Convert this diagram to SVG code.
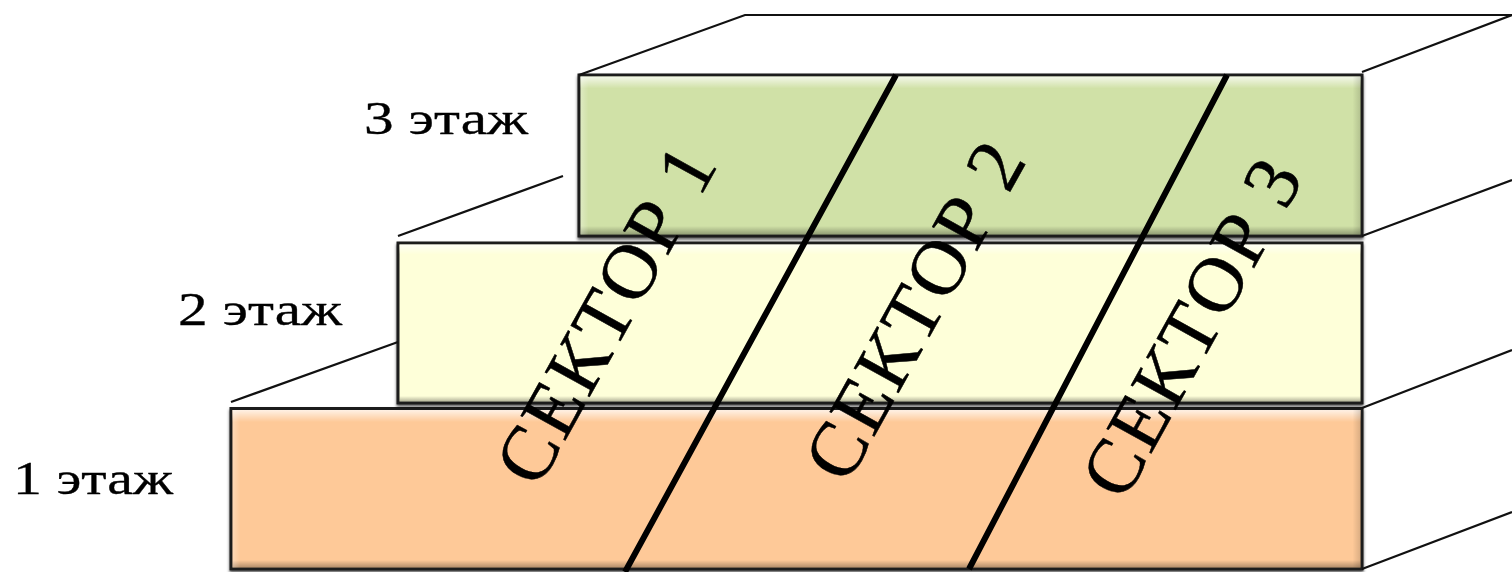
<svg xmlns="http://www.w3.org/2000/svg" width="1512" height="572" viewBox="0 0 1512 572">
<style>
.box{stroke:#1a1a1a;stroke-width:3}
.edge{stroke:#111;stroke-width:2.2;fill:none}
.div{stroke:#000;stroke-width:6;fill:none}
.floor{font-family:"Liberation Serif","DejaVu Serif",serif;font-size:46px;fill:#000;stroke:#000;stroke-width:.3}
.sector{font-family:"Liberation Serif","DejaVu Serif",serif;font-size:78px;fill:#000;stroke:#000;stroke-width:.5}
</style>
<defs>
<linearGradient id="t" x1="0" y1="0" x2="0" y2="1"><stop offset="0" stop-color="#fff" stop-opacity=".75"/><stop offset="1" stop-color="#fff" stop-opacity="0"/></linearGradient>
<linearGradient id="b" x1="0" y1="1" x2="0" y2="0"><stop offset="0" stop-color="#000" stop-opacity=".3"/><stop offset="1" stop-color="#000" stop-opacity="0"/></linearGradient>
<linearGradient id="l" x1="0" y1="0" x2="1" y2="0"><stop offset="0" stop-color="#fff" stop-opacity=".3"/><stop offset="1" stop-color="#fff" stop-opacity="0"/></linearGradient>
<linearGradient id="r" x1="1" y1="0" x2="0" y2="0"><stop offset="0" stop-color="#000" stop-opacity=".14"/><stop offset="1" stop-color="#000" stop-opacity="0"/></linearGradient>
<filter id="s" x="-2%" y="-5%" width="104%" height="110%"><feDropShadow dx="0" dy="2.500" stdDeviation="1.500" flood-color="#000" flood-opacity=".6"/></filter>
</defs>
<g id="floor-1">
<rect class="box" x="231" y="408.500" width="1131" height="160.500" fill="#fec998" filter="url(#s)"/>
<rect x="232.500" y="410" width="1128" height="12" fill="url(#t)"/><rect x="232.500" y="560" width="1128" height="7.500" fill="url(#b)"/>
<rect x="232.500" y="410" width="8" height="157.500" fill="url(#l)"/><rect x="1352.500" y="410" width="8" height="157.500" fill="url(#r)"/>
<text class="floor" x="13" y="494" textLength="160" lengthAdjust="spacingAndGlyphs">1 этаж</text>
</g>
<g id="floor-2">
<rect class="box" x="398" y="243" width="964" height="160" fill="#feffd9" filter="url(#s)"/>
<rect x="399.500" y="244.500" width="961" height="10" fill="url(#t)"/><rect x="399.500" y="396" width="961" height="5.500" fill="url(#b)"/>
<text class="floor" x="178" y="325" textLength="164" lengthAdjust="spacingAndGlyphs">2 этаж</text>
</g>
<g id="floor-3">
<rect class="box" x="579" y="75" width="783" height="161" fill="#d0e1a7" filter="url(#s)"/>
<rect x="580.500" y="76.500" width="780" height="12" fill="url(#t)"/><rect x="580.500" y="226" width="780" height="8.500" fill="url(#b)"/>
<rect x="580.500" y="76.500" width="8" height="158" fill="url(#l)"/><rect x="1352.500" y="76.500" width="8" height="158" fill="url(#r)"/>
<text class="floor" x="364" y="134" textLength="164" lengthAdjust="spacingAndGlyphs">3 этаж</text>
</g>
<g id="connectors">
<path class="edge" d="M579 75 745 15H1512M1362 72 1512 15M1362 236 1512 180M1362 408 1512 350M1362 569 1512 512M398 236 563 176M231 402 398 342"/>
<path class="div" d="M896 75 625 572M1227 75 969 569"/>
</g>
<g id="sector-1"><text class="sector" transform="translate(538 490) rotate(-61)" textLength="372" lengthAdjust="spacing">СЕКТОР 1</text></g>
<g id="sector-2"><text class="sector" transform="translate(847 486) rotate(-61)" textLength="372" lengthAdjust="spacing">СЕКТОР 2</text></g>
<g id="sector-3"><text class="sector" transform="translate(1124 503) rotate(-61)" textLength="372" lengthAdjust="spacing">СЕКТОР 3</text></g>
</svg>
